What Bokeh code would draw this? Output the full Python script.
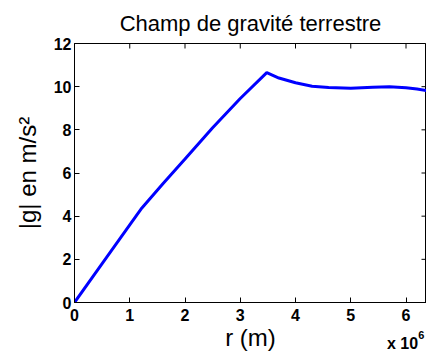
import math
from bokeh.plotting import figure
from bokeh.models import LinearAxis, Range1d, FixedTicker, Div
from bokeh.layouts import column
from bokeh.embed import file_html
from bokeh.resources import INLINE

# Data (r in metres, |g| in m/s^2)
r_vals = [0, 0.5e6, 1.0e6, 1.22e6, 1.6e6, 2.0e6, 2.5e6, 3.0e6, 3.48e6, 3.7e6,
          4.0e6, 4.3e6, 4.6e6, 5.0e6, 5.4e6, 5.7e6, 6.0e6, 6.2e6, 6.371e6]
g_vals = [0, 1.8, 3.6, 4.38, 5.5, 6.65, 8.1, 9.45, 10.65, 10.4,
          10.18, 10.02, 9.96, 9.93, 9.97, 10.0, 9.95, 9.89, 9.82]
x_ticks = [0, 1e6, 2e6, 3e6, 4e6, 5e6, 6e6]
x_tick_labels = {0: "0", 1e6: "1", 2e6: "2", 3e6: "3", 4e6: "4", 5e6: "5", 6e6: "6"}
y_ticks = [0, 2, 4, 6, 8, 10, 12]
x_max = 6.371e6
y_max = 12
x_exponent = "6"

FONT = "Liberation Sans"

p = figure(width=426, height=353, output_backend="svg", toolbar_location=None,
           x_range=Range1d(0, x_max), y_range=Range1d(0, y_max),
           min_border_left=74, min_border_right=0, min_border_top=43,
           min_border_bottom=50, x_axis_location=None, y_axis_location=None)
p.background_fill_color = "white"
p.border_fill_color = "white"
p.outline_line_color = "black"
p.outline_line_width = 1
p.xgrid.visible = False
p.ygrid.visible = False

p.title.text = "Champ de gravité terrestre"
p.title.align = "center"
p.title.text_font = FONT
p.title.text_font_size = "22px"
p.title.text_font_style = "normal"
p.title.text_color = "black"
p.title.standoff = 15

def style_axis(ax, ticks):
    ax.ticker = FixedTicker(ticks=ticks)
    ax.major_tick_in = 5
    ax.major_tick_out = 0
    ax.minor_tick_line_color = None
    ax.axis_line_color = "black"
    ax.axis_line_width = 1
    ax.major_tick_line_color = "black"
    ax.major_label_text_font = FONT
    ax.major_label_text_font_size = "16px"
    ax.major_label_text_font_style = "bold"
    ax.major_label_text_color = "black"
    ax.axis_label_text_font = FONT
    ax.axis_label_text_font_size = "24px"
    ax.axis_label_text_font_style = "normal"
    ax.axis_label_text_color = "black"

xb = LinearAxis(axis_label="r (m)")
style_axis(xb, x_ticks)
xb.major_label_overrides = x_tick_labels
xb.major_label_standoff = 6
xb.axis_label_standoff = 0
p.add_layout(xb, "below")

yl = LinearAxis(axis_label="|g| en m/s²")
style_axis(yl, y_ticks)
yl.major_label_standoff = 3
yl.axis_label_standoff = 10
p.add_layout(yl, "left")

# inward tick marks on the top and right sides of the box
p.scatter(x_ticks, [y_max] * len(x_ticks), marker="dash", size=10,
          angle=math.pi / 2, line_color="black", line_width=1)
p.scatter([x_max] * len(y_ticks), y_ticks, marker="dash", size=10,
          line_color="black", line_width=1)

p.line(r_vals, g_vals, line_color="#0000ff", line_width=3)

# axis multiplier "x 10^6" overlapping the bottom right corner of the figure
mult = Div(
    text=('<div style="margin-left:387px;font-family:\'Liberation Sans\';'
          'font-size:16px;font-weight:bold;color:black;white-space:nowrap;'
          'line-height:18px;">x 10<span style="font-size:11px;position:relative;'
          'top:-10px;">' + x_exponent + '</span></div>'),
    width=426, height=18, margin=(-18, 0, 0, 0))

layout = column(p, mult, spacing=0)

open("out.html", "w").write(file_html(layout, INLINE))
